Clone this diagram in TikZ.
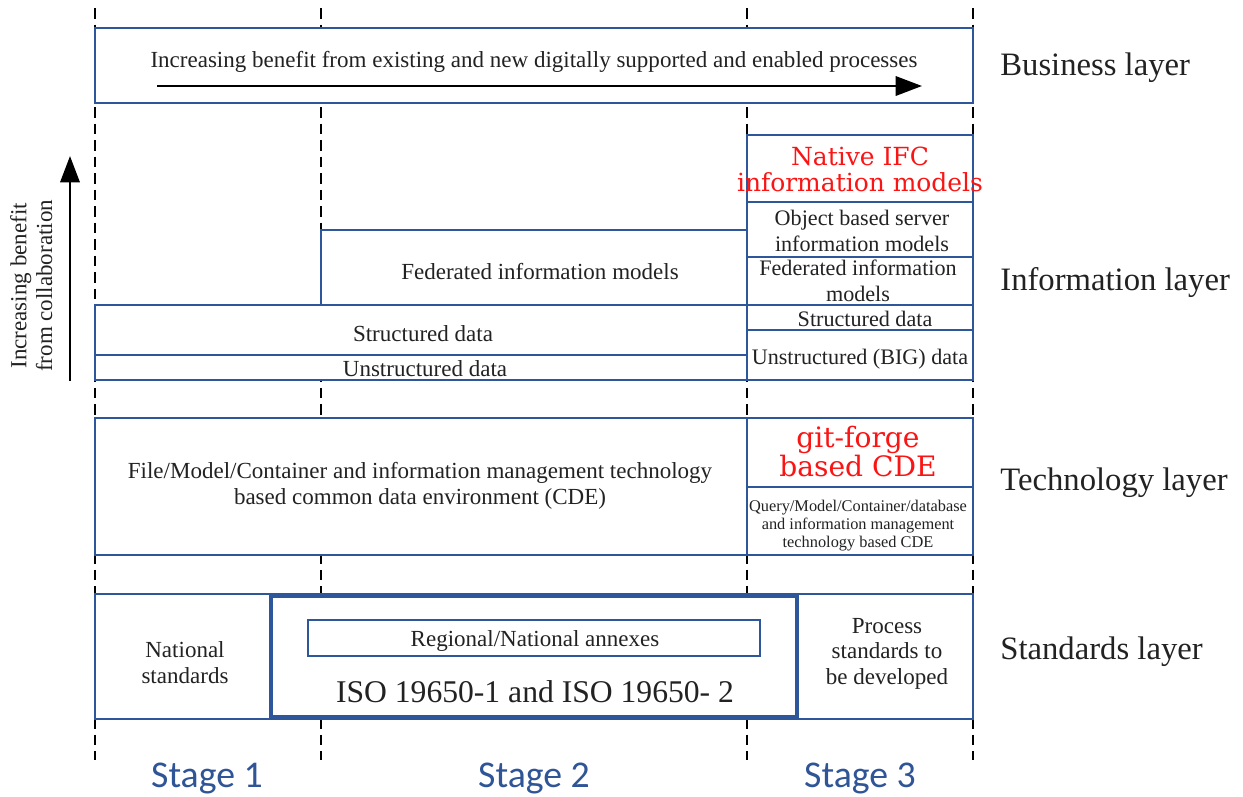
\documentclass[tikz,border=0pt]{standalone}
\usepackage{fontspec}
\setmainfont{Liberation Serif}
\newfontfamily\redfont{DejaVu Serif}
\newfontfamily\stagefont{Carlito}
\usepackage{tikz}
\usetikzlibrary{arrows.meta, positioning}
\usepackage{xcolor}
\definecolor{lineblue}{RGB}{46,86,154}
\definecolor{stageblue}{RGB}{47,85,151}
\definecolor{txtgrey}{RGB}{34,34,34}
\definecolor{ifcred}{RGB}{250,20,20}

\begin{document}
\begin{tikzpicture}[x=0.02cm, y=-0.02cm,
	guide/.style = {black, line width=1.2pt, dash pattern=on 6pt off 3.4pt},
	box/.style = {draw=lineblue, line width=1.1pt, fill=white},
	sep/.style = {draw=lineblue, line width=0.8pt},
	cell/.style = {inner sep=0pt, align=center, yshift=-1.6pt, text=txtgrey, font=\fontsize{13.1}{14.6}\selectfont},
	redcell/.style = {inner sep=0pt, align=center, yshift=-0.8pt, text=ifcred, font=\redfont\fontsize{14.2}{14.7}\selectfont},
	layer/.style = {inner sep=0pt, anchor=west, yshift=-1.6pt, text=txtgrey, font=\fontsize{18.6}{20}\selectfont},
	stage/.style = {inner sep=0pt, yshift=-1.6pt, text=stageblue, font=\stagefont\fontsize{21.5}{24}\selectfont},
	bigarrow/.style = {line width=1.4pt, -{Triangle[length=15pt, width=11pt]}}]
		\useasboundingbox (0,0) rectangle (1243,796);
		
		% stage borders
		\foreach \x in {95,321,747,973}
			\draw[guide] (\x,8) -- (\x,760);
		
		% business layer
		\draw[box] (95,28) rectangle (973,103);
		\node[cell] (busText) at (534,59) {Increasing benefit from existing and new digitally supported and enabled processes};
		\coordinate (busA) at (157,86);
		\coordinate (busB) at (922,86);
		\draw[bigarrow] (busA) -- (busB);
		
		% information layer
		\draw[box] (95,380) -- (95,305) -- (321,305) -- (321,230) -- (747,230) -- (747,135) -- (973,135) -- (973,380) -- cycle;
		\draw[sep] (321,305) -- (973,305)
			(95,355) -- (747,355)
			(747,135) -- (747,380)
			(747,202) -- (973,202)
			(747,257) -- (973,257)
			(747,330) -- (973,330);
		\node[cell] (fed2) at (540,269) {Federated information models};
		\node[cell] (str12) at (423,331) {Structured data};
		\node[cell] (unstr12) at (425,366) {Unstructured data};
		\node[redcell] (ifc) at (860,168) {Native IFC\\information models};
		\node[cell, font=\fontsize{12.6}{14.6}\selectfont] (objsrv) at (862,228) {Object based server\\information models};
		\node[cell, font=\fontsize{12.6}{14.6}\selectfont] (fed3) at (858,278) {Federated information\\models};
		\node[cell, font=\fontsize{12.6}{14.6}\selectfont] (str3) at (865,316) {Structured data};
		\node[cell, font=\fontsize{12.6}{14.6}\selectfont] (unstr3) at (860,356) {Unstructured (BIG) data};
		
		\coordinate (colA) at (70,381);
		\coordinate (colB) at (70,156);
		\draw[bigarrow] (colA) -- (colB);
		\node[cell, rotate=90, yshift=1.6pt] (colText) at (34,283) {Increasing benefit\\from collaboration};
		
		% technology layer
		\draw[box] (95,418) rectangle (973,555);
		\draw[sep] (747,418) -- (747,555)
			(747,487) -- (973,487);
		\node[cell] (cde12) at (420,483) {File/Model/Container and information management technology\\based common data environment (CDE)};
		\node[redcell, font=\redfont\fontsize{16}{15}\selectfont] (gitcde) at (858,450) {git-forge\\based CDE};
		\node[cell, font=\fontsize{9.3}{10.2}\selectfont] (cde3) at (858,523) {Query/Model/Container/database\\and information management\\technology based CDE};
		
		% standards layer
		\draw[box] (95,594) rectangle (973,719);
		\draw[draw=lineblue, line width=2.8pt] (271,596) rectangle (797,717);
		\draw[draw=lineblue, line width=0.6pt] (308,620) rectangle (760,656);
		\node[cell] (annex) at (535,638) {Regional/National annexes};
		\node[cell, font=\fontsize{18}{20}\selectfont] (iso) at (535,689) {ISO 19650-1 and ISO 19650- 2};
		\node[cell] (natstd) at (185,660) {National\\standards};
		\node[cell] (procstd) at (887,651) {Process\\standards to\\be developed};
		
		% layer names
		\node[layer] (busL) at (1000,65) {Business layer};
		\node[layer] (infoL) at (1000,280) {Information layer};
		\node[layer] (techL) at (1000,480) {Technology layer};
		\node[layer] (stdL) at (1000,649) {Standards layer};
		
		% stages
		\node[stage] (st1) at (207,776) {Stage 1};
		\node[stage] (st2) at (534,776) {Stage 2};
		\node[stage] (st3) at (860,776) {Stage 3};
	\end{tikzpicture}
\end{document}
